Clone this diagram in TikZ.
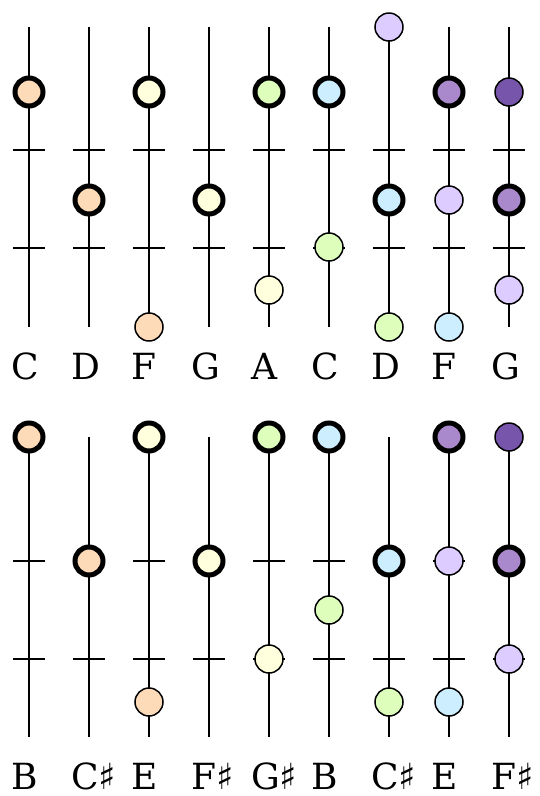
\documentclass[tikz,border=0pt]{standalone}
\usepackage{fontspec}
\setmainfont{DejaVu Serif}
\definecolor{peach}{HTML}{FDDAB8}
\definecolor{ltyellow}{HTML}{FFFFDD}
\definecolor{ltgreen}{HTML}{DDFFBB}
\definecolor{ltblue}{HTML}{CCEEFF}
\definecolor{lavender}{HTML}{DDCCFF}
\definecolor{mpurple}{HTML}{AA88CC}
\definecolor{dpurple}{HTML}{7755AA}
\begin{document}
\begin{tikzpicture}[x=1pt,y=-1pt,
  str/.style={line width=2pt},
  tk/.style={line width=2pt},
  hi/.style={circle,draw,line width=5pt,minimum size=28pt,inner sep=0pt,outer sep=0pt},
  lo/.style={circle,draw,line width=1.5pt,minimum size=28pt,inner sep=0pt,outer sep=0pt},
  lab/.style={anchor=base west,font=\fontsize{36}{40}\selectfont,inner sep=0pt}]
\useasboundingbox (0,0) rectangle (540,796);
% strings and frets
\foreach \i in {1,...,9}{
  \pgfmathsetmacro{\xx}{29+60*(\i-1)}
  \coordinate (ta\i) at (\xx,27);
  \coordinate (tb\i) at (\xx,327);
  \coordinate (ba\i) at (\xx,437);
  \coordinate (bb\i) at (\xx,737);
  \draw[str] (ta\i) -- (tb\i);
  \draw[str] (ba\i) -- (bb\i);
  \coordinate (f1l\i) at (\xx-16,150); \coordinate (f1r\i) at (\xx+16,150);
  \coordinate (f2l\i) at (\xx-16,248); \coordinate (f2r\i) at (\xx+16,248);
  \coordinate (f3l\i) at (\xx-16,561); \coordinate (f3r\i) at (\xx+16,561);
  \coordinate (f4l\i) at (\xx-16,659); \coordinate (f4r\i) at (\xx+16,659);
  \draw[tk] (f1l\i) -- (f1r\i);
  \draw[tk] (f2l\i) -- (f2r\i);
  \draw[tk] (f3l\i) -- (f3r\i);
  \draw[tk] (f4l\i) -- (f4r\i);
}
% top circles
\node[hi,fill=peach] (t1a) at (29,92) {};
\node[hi,fill=peach] (t2a) at (89,200) {};
\node[hi,fill=ltyellow] (t3a) at (149,92) {};
\node[lo,fill=peach] (t3b) at (149,327) {};
\node[hi,fill=ltyellow] (t4a) at (209,200) {};
\node[hi,fill=ltgreen] (t5a) at (269,92) {};
\node[lo,fill=ltyellow] (t5b) at (269,290) {};
\node[hi,fill=ltblue] (t6a) at (329,92) {};
\node[lo,fill=ltgreen] (t6b) at (329,247) {};
\node[lo,fill=lavender] (t7a) at (389,27) {};
\node[hi,fill=ltblue] (t7b) at (389,200) {};
\node[lo,fill=ltgreen] (t7c) at (389,327) {};
\node[hi,fill=mpurple] (t8a) at (449,92) {};
\node[lo,fill=lavender] (t8b) at (449,200) {};
\node[lo,fill=ltblue] (t8c) at (449,327) {};
\node[lo,fill=dpurple] (t9a) at (509,92) {};
\node[hi,fill=mpurple] (t9b) at (509,200) {};
\node[lo,fill=lavender] (t9c) at (509,290) {};
% bottom circles
\node[hi,fill=peach] (b1a) at (29,437) {};
\node[hi,fill=peach] (b2a) at (89,561) {};
\node[hi,fill=ltyellow] (b3a) at (149,437) {};
\node[lo,fill=peach] (b3b) at (149,702) {};
\node[hi,fill=ltyellow] (b4a) at (209,561) {};
\node[hi,fill=ltgreen] (b5a) at (269,437) {};
\node[lo,fill=ltyellow] (b5b) at (269,659) {};
\node[hi,fill=ltblue] (b6a) at (329,437) {};
\node[lo,fill=ltgreen] (b6b) at (329,610) {};
\node[hi,fill=ltblue] (b7a) at (389,561) {};
\node[lo,fill=ltgreen] (b7b) at (389,702) {};
\node[hi,fill=mpurple] (b8a) at (449,437) {};
\node[lo,fill=lavender] (b8b) at (449,561) {};
\node[lo,fill=ltblue] (b8c) at (449,702) {};
\node[lo,fill=dpurple] (b9a) at (509,437) {};
\node[hi,fill=mpurple] (b9b) at (509,561) {};
\node[lo,fill=lavender] (b9c) at (509,659) {};
% labels
\node[lab] (l1) at (11,379) {C};
\node[lab] (l2) at (71,379) {D};
\node[lab] (l3) at (131,379) {F};
\node[lab] (l4) at (191,379) {G};
\node[lab] (l5) at (251,379) {A};
\node[lab] (l6) at (311,379) {C};
\node[lab] (l7) at (371,379) {D};
\node[lab] (l8) at (431,379) {F};
\node[lab] (l9) at (491,379) {G};
\node[lab] (m1) at (11,789) {B};
\node[lab] (m2) at (71,789) {C♯};
\node[lab] (m3) at (131,789) {E};
\node[lab] (m4) at (191,789) {F♯};
\node[lab] (m5) at (251,789) {G♯};
\node[lab] (m6) at (311,789) {B};
\node[lab] (m7) at (371,789) {C♯};
\node[lab] (m8) at (431,789) {E};
\node[lab] (m9) at (491,789) {F♯};
\end{tikzpicture}
\end{document}
